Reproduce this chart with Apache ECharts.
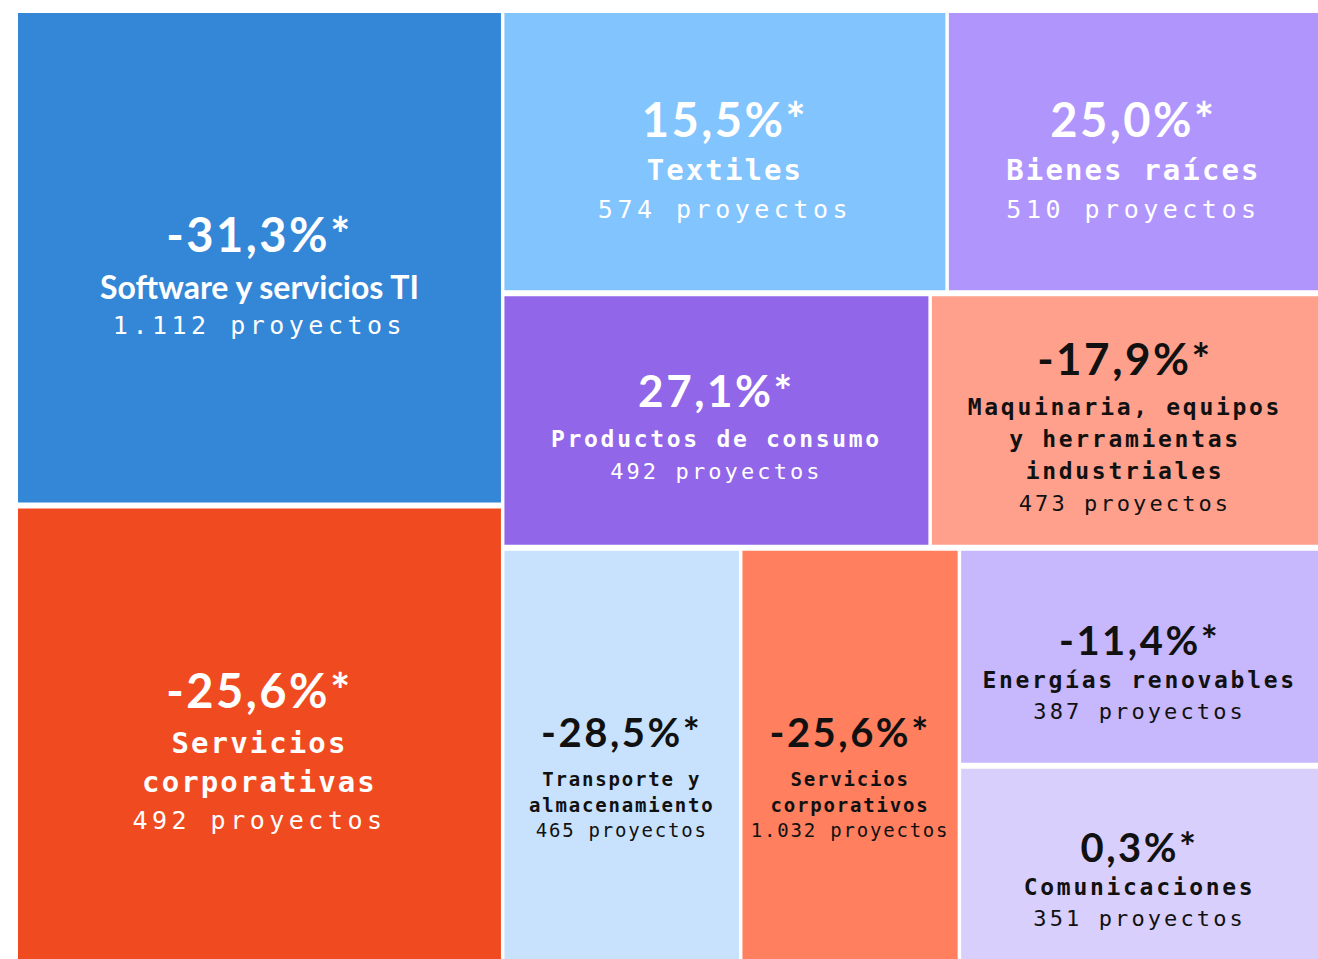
<!DOCTYPE html>
<html>
<head>
<meta charset="utf-8">
<title>Proyectos por sector</title>
<script src="https://cdn.jsdelivr.net/npm/echarts@6/dist/echarts.min.js"></script>
<style>
html, body { margin: 0; padding: 0; background: #fff; }
#chart { width: 1318px; height: 959px; }
</style>
</head>
<body>
<div id="chart"></div>
<script>
// sectores, en el orden en que aparecen en la estructura de abajo
const sectores = [
    'Software y servicios TI',
    'Servicios\ncorporativas',
    'Textiles',
    'Bienes raíces',
    'Productos de consumo',
    'Maquinaria, equipos\ny herramientas\nindustriales',
    'Transporte y\nalmacenamiento',
    'Servicios\ncorporativos',
    'Energías renovables',
    'Comunicaciones'
]
const variacion = ['-31,3%*', '-25,6%*', '15,5%*', '25,0%*', '27,1%*', '-17,9%*', '-28,5%*', '-25,6%*', '-11,4%*', '0,3%*']
const proyectos = ['1.112', '492', '574', '510', '492', '473', '465', '1.032', '387', '351']
const tamano = [1112, 1024, 580, 484, 507, 460, 456, 419, 364, 323]

const colores = ['#3486d6', '#f04b20', '#82c4fd', '#b096fc', '#9166e8', '#fea08c', '#c8e2fd', '#ff7f5e', '#c7b7fd', '#d9cffd']
const colorTexto = ['#fff', '#fff', '#fff', '#fff', '#fff', '#111', '#111', '#111', '#111', '#111']

// 'x' = lado a lado, 'y' = una encima de otra
const estructura = ['x', ['y', 0, 1], ['y', ['x', 2, 3], ['x', 4, 5], ['x', 6, 7, ['y', 8, 9]]]]

const HUECO_X = 3.5
const HUECO_Y = 6

function suma(nodo) {
    if (typeof nodo === 'number') return tamano[nodo]
    return nodo.slice(1).reduce((s, n) => s + suma(n), 0)
}

function repartir(nodo, x0, y0, x1, y1, celdas) {
    if (typeof nodo === 'number') {
        celdas.push([x0, y0, x1, y1, nodo])
        return
    }
    const dir = nodo[0]
    const total = suma(nodo)
    const largo = dir === 'x' ? x1 - x0 : y1 - y0
    let pos = dir === 'x' ? x0 : y0
    nodo.slice(1).forEach(h => {
        const paso = largo * suma(h) / total
        if (dir === 'x') repartir(h, pos, y0, pos + paso, y1, celdas)
        else repartir(h, x0, pos, x1, pos + paso, celdas)
        pos += paso
    })
}

const celdas = []
repartir(estructura, 0, 0, 1, 1, celdas)

// tamaños de texto según la celda
const niveles = [
    { pct: 47, pctLH: 66, nom: 29, nomLH: 39, nomTk: 2.1, proy: 25, proyLH: 39, proyTk: 4.5, dy: 15 },   // muy altas
    { pct: 47, pctLH: 64, nom: 29, nomLH: 39, nomTk: 2.1, proy: 25, proyLH: 39, proyTk: 4.5, dy: 6 },    // altas
    { pct: 44, pctLH: 66, nom: 23, nomLH: 32, nomTk: 2.7, proy: 22, proyLH: 33, proyTk: 3.1, dy: 2 },    // medianas
    { pct: 40, pctLH: 48, nom: 23, nomLH: 32, nomTk: 2.7, proy: 22, proyLH: 32, proyTk: 3.1, dy: 15 },   // bajas
    { pct: 40, pctLH: 70, nom: 19, nomLH: 25.5, nomTk: 1.8, proy: 19, proyLH: 25.5, proyTk: 1.8, dy: 15 } // estrechas
]

function nivel(w, h) {
    if (w < 250) return 4
    if (h >= 400) return 0
    if (h >= 270) return 1
    if (h >= 240) return 2
    return 3
}

// espaciado entre letras (el render svg deja pasar el css)
const css = ['text[style*="tkpp"]{letter-spacing:2.5px}']
niveles.forEach((n, k) => {
    css.push('text[style*="tk' + k + 'n"]{letter-spacing:' + n.nomTk + 'px}')
    css.push('text[style*="tk' + k + 'r"]{letter-spacing:' + n.proyTk + 'px}')
})
const hoja = document.createElement('style')
hoja.textContent = css.join('\n')
document.head.appendChild(hoja)

function dibujar(params, api) {
    const i = api.value(4)
    const a = api.coord([api.value(0), api.value(1)])
    const b = api.coord([api.value(2), api.value(3)])
    let x0 = Math.min(a[0], b[0]), x1 = Math.max(a[0], b[0])
    let y0 = Math.min(a[1], b[1]), y1 = Math.max(a[1], b[1])
    if (api.value(0) > 1e-6) x0 += HUECO_X / 2
    if (api.value(2) < 1 - 1e-6) x1 -= HUECO_X / 2
    if (api.value(1) > 1e-6) y0 += HUECO_Y / 2
    if (api.value(3) < 1 - 1e-6) y1 -= HUECO_Y / 2
    const w = x1 - x0
    const h = y1 - y0
    const k = nivel(w, h)
    const n = niveles[k]
    const tinta = colorTexto[i]
    const sans = i === 0 // el primer rótulo va en letra sin monoespacio

    const lineas = ['{p|' + variacion[i] + '}']
    sectores[i].split('\n').forEach(l => lineas.push('{n|' + l + '}'))
    lineas.push('{r|' + proyectos[i] + ' proyectos}')

    return {
        type: 'group',
        children: [{
            type: 'rect',
            shape: { x: x0, y: y0, width: w, height: h },
            style: { fill: colores[i] }
        }, {
            type: 'text',
            x: (x0 + x1) / 2,
            y: (y0 + y1) / 2 + n.dy,
            style: {
                text: lineas.join('\n'),
                align: 'center',
                verticalAlign: 'middle',
                rich: {
                    p: {
                        fontFamily: 'Lato, tkpp',
                        fontWeight: 'bold',
                        fontSize: n.pct,
                        lineHeight: n.pctLH,
                        fill: tinta
                    },
                    n: sans ? {
                        fontFamily: 'Lato',
                        fontWeight: 'bold',
                        fontSize: 32,
                        lineHeight: n.nomLH,
                        fill: tinta
                    } : {
                        fontFamily: 'DejaVu Sans Mono, tk' + k + 'n',
                        fontWeight: 'bold',
                        fontSize: n.nom,
                        lineHeight: n.nomLH,
                        fill: tinta
                    },
                    r: {
                        fontFamily: 'DejaVu Sans Mono, tk' + k + 'r',
                        fontWeight: 'normal',
                        fontSize: n.proy,
                        lineHeight: n.proyLH,
                        fill: tinta
                    }
                }
            }
        }]
    }
}

const chart = echarts.init(document.getElementById('chart'), null, { renderer: 'svg' })
chart.setOption({
    animation: false,
    grid: { left: 18, top: 13, right: 0, bottom: 0 },
    xAxis: { type: 'value', min: 0, max: 1, show: false },
    yAxis: { type: 'value', min: 0, max: 1, inverse: true, show: false },
    series: [{
        type: 'custom',
        silent: true,
        coordinateSystem: 'cartesian2d',
        renderItem: dibujar,
        encode: { x: [0, 2], y: [1, 3] },
        data: celdas
    }]
})
</script>
</body>
</html>
